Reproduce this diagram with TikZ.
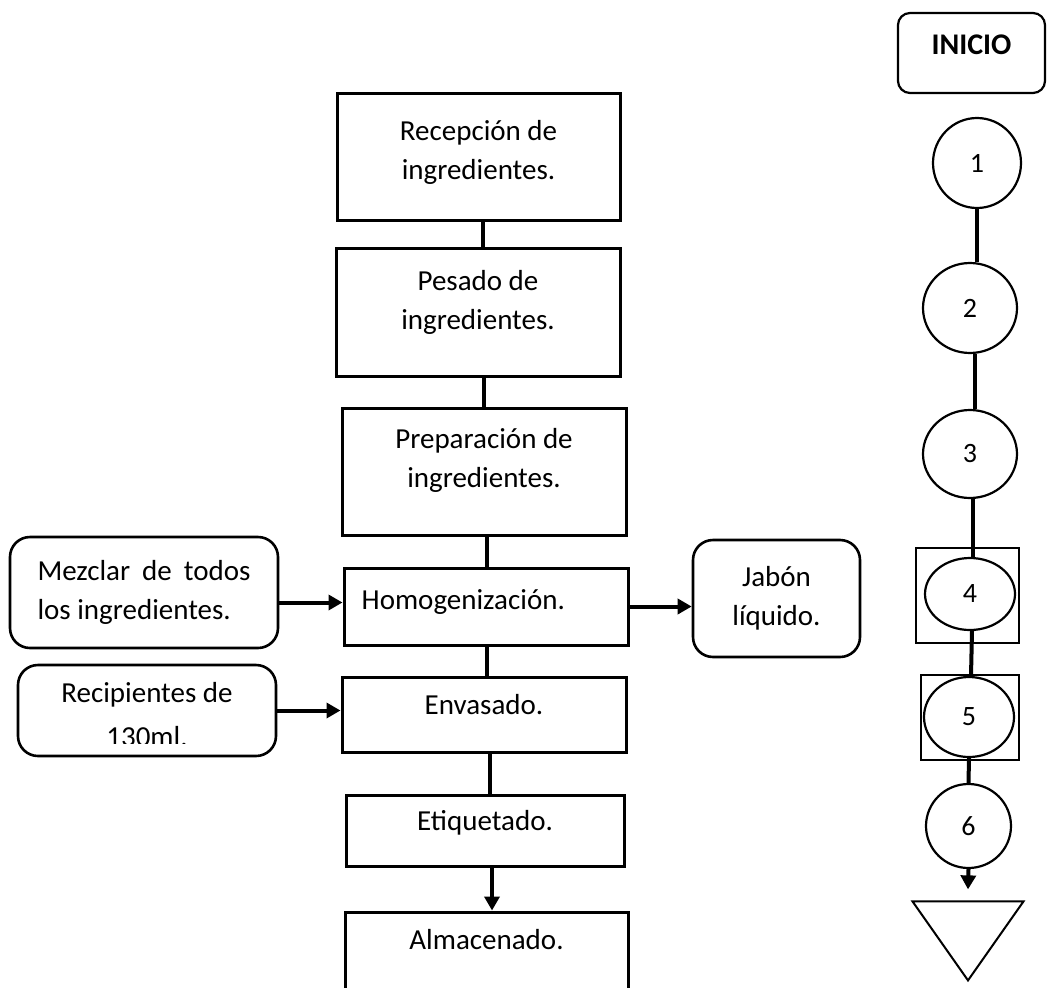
\documentclass[tikz,border=0pt]{standalone}
\usepackage{fontspec}
\setmainfont{Carlito}
\usepackage{tikz}
\usetikzlibrary{positioning,shapes,arrows.meta,calc}

\begin{document}
\begin{tikzpicture}[x=1pt,y=-1pt,
		font=\fontsize{29}{38.5}\selectfont,
		stepbox/.style={draw, line width=3pt, inner sep=0pt},
		steptext/.style={inner sep=0pt, align=center, anchor=north},
		sidebox/.style={draw, line width=2.6pt, rounded corners=20pt, inner sep=0pt, align=center},
		link/.style={line width=4pt},
		flow/.style={line width=4pt, -{Triangle[length=14pt,width=15pt]}},
		opnode/.style={draw, ellipse, line width=2.2pt, inner sep=0pt, font=\fontsize{28}{32}\selectfont},
		opframe/.style={draw, line width=2.4pt, inner sep=0pt}]
	\useasboundingbox (0,0) rectangle (1047,988);
	\clip (0,0) rectangle (1047,988);

	% proceso principal
	\node[stepbox, minimum width=283, minimum height=127] (rec) at (478.5,156.5) {};
	\node[steptext, below=29pt of rec.north] (rec-t) {Recepción de\\ingredientes.};
	\node[stepbox, minimum width=284, minimum height=128] (pes) at (478,312) {};
	\node[steptext, below=24pt of pes.north] (pes-t) {Pesado de\\ingredientes.};
	\node[stepbox, minimum width=284, minimum height=127] (pre) at (484,471.5) {};
	\node[steptext, below=22pt of pre.north] (pre-t) {Preparación de\\ingredientes.};
	\node[stepbox, minimum width=284, minimum height=77] (hom) at (486,606.5) {};
	\node[steptext, anchor=north west] (hom-t) at ([xshift=19pt,yshift=-23pt]hom.north west) {Homogenización.};
	\node[stepbox, minimum width=284, minimum height=75] (env) at (484,714.5) {};
	\node[steptext, below=19pt of env.north] (env-t) {Envasado.};
	\node[stepbox, minimum width=278, minimum height=71] (eti) at (485,830.5) {};
	\node[steptext, below=17pt of eti.north] (eti-t) {Etiquetado.};
	\node[stepbox, minimum width=283, minimum height=98] (alm) at (486.5,961) {};
	\node[steptext, below=19pt of alm.north] (alm-t) {Almacenado.};

	% entradas y salida
	\node[sidebox, minimum width=268, minimum height=111, text width=213, align=justify] (mez) at (144,592.5) {Mezclar de todos los ingredientes.};
	\node[sidebox, minimum width=167, minimum height=117] (jab) at (776.5,598.5) {Jabón\\líquido.};
	\node[sidebox, minimum width=258, minimum height=91] (recip) at (147,710.5) {};
	\begin{scope}
		\clip ([yshift=14pt]recip.south west) rectangle (recip.north east);
		\node[steptext, below=18pt of recip.north] (recip-t) {Recipientes de\\[6pt]130ml.};
	\end{scope}

	\draw[link] (rec.south -| 483,0) -- (pes.north -| 483,0);
	\draw[link] (pes.south -| 484,0) -- (pre.north -| 484,0);
	\draw[link] (pre.south -| 487,0) -- (hom.north -| 487,0);
	\draw[link] (hom.south -| 487,0) -- (env.north -| 487,0);
	\draw[link] (env.south -| 490,0) -- (eti.north -| 490,0);
	\draw[flow] (eti.south -| 492,0) -- (alm.north -| 492,0);
	\draw[flow] ([yshift=-10pt]mez.east) -- ([yshift=-10pt]mez.east -| hom.west);
	\draw[flow] (recip.east) -- (recip.east -| env.west);
	\draw[flow] (hom.east) -- (hom.east -| jab.west);

	% simbolos
	\node[draw, line width=2.2pt, rounded corners=12pt, minimum width=147, minimum height=80,
		text depth=16pt, font=\bfseries\fontsize{30}{36}\selectfont] (ini) at (971.5,53) {INICIO};
	\node[opnode, minimum width=88, minimum height=90] (op1) at (977,163) {1};
	\node[opnode, minimum width=94, minimum height=90] (op2) at (970,308) {2};
	\node[opnode, minimum width=94, minimum height=88] (op3) at (970,454) {3};
	\node[opframe, minimum width=103, minimum height=95] (sq4) at (967.5,595.5) {};
	\node[opnode, minimum width=90, minimum height=72] (op4) at (970,594) {4};
	\node[opframe, minimum width=98, minimum height=85] (sq5) at (970,717.5) {};
	\node[opnode, minimum width=90, minimum height=80] (op5) at (969,717) {5};
	\node[opnode, minimum width=85, minimum height=84] (op6) at (968.5,826) {6};
	\node[draw, line width=2pt, isosceles triangle, isosceles triangle stretches, shape border rotate=-90,
		minimum width=111, minimum height=79, inner sep=0pt, anchor=apex] (store) at (968,983) {};

	\draw[link] (op1.south) -- (op1.south |- op2.north);
	\draw[link] ([xshift=5pt]op2.south) -- ([xshift=5pt]op3.north);
	\draw[link] ([xshift=3pt]op3.south) -- ([xshift=3pt]op4.north);
	\draw[link] ([xshift=2pt]op4.south) -- ([xshift=2pt]op5.north);
	\draw[link] (op5.south) -- (op6.north);
	\draw[flow] (op6.south) -- ([yshift=11pt]store.north);
\end{tikzpicture}
\end{document}
